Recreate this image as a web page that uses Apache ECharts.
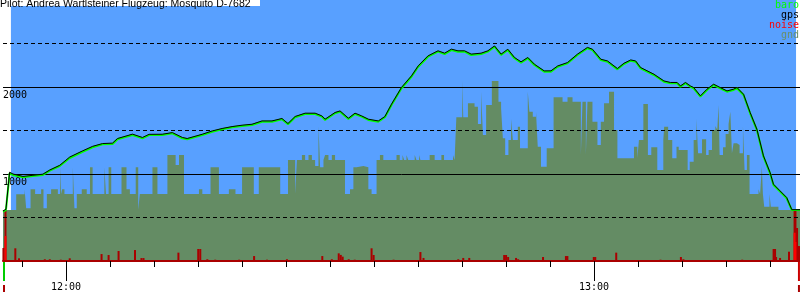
<!DOCTYPE html>
<html>
<head>
<meta charset="utf-8">
<script src="https://cdn.jsdelivr.net/npm/echarts@6/dist/echarts.min.js"></script>
<style>
html,body{margin:0;padding:0;background:#fff;}
#chart{width:800px;height:300px;}
</style>
</head>
<body>
<div id="chart"></div>
<script>
// ---------- data ----------
const titleText = 'Pilot: Andrea Wartlsteiner Flugzeug: Mosquito D-7682';
const xRange = ['11:52:50', '13:23:24'];
const flightWindow = ['11:53:44', '13:22:57'];
const markerTimes = ['11:52:50', '13:23:10'];
const markerKinds = ['start', 'end'];
const minorTicks = ['11:55','12:05','12:10','12:15','12:20','12:25','12:30','12:35','12:40','12:45','12:50','12:55','13:05','13:10','13:15','13:20'];
const majorTicks = ['12:00','13:00'];
const yLabels = [1000, 2000];
const legendNames = ['baro', 'gps', 'noise', 'gnd'];

const trackTimes = ['11:52:50','11:53:10','11:53:35','11:53:58','11:55:06','11:56:14','11:57:22','11:58:09','11:59:17','12:00:25',
 '12:01:53','12:03:01','12:04:09','12:05:17','12:05:51','12:07:33','12:08:41','12:09:26','12:10:56','12:12:05',
 '12:13:13','12:13:46','12:15:29','12:16:37','12:17:44','12:18:52','12:20:00','12:21:08','12:22:16','12:23:24',
 '12:24:32','12:25:13','12:26:02','12:27:10','12:28:18','12:29:04','12:29:26','12:30:34','12:31:08','12:32:05',
 '12:32:50','12:33:35','12:34:21','12:35:29','12:36:14','12:36:59','12:38:07','12:39:15','12:40:01','12:41:08',
 '12:42:16','12:43:01','12:43:47','12:44:32','12:45:17','12:46:02','12:47:10','12:47:56','12:48:41','12:49:26',
 '12:50:12','12:50:57','12:51:42','12:52:28','12:53:13','12:54:20','12:55:06','12:55:52','12:56:59','12:58:07',
 '12:59:15','12:59:49','13:00:46','13:01:31','13:02:39','13:03:24','13:04:10','13:04:43','13:05:17','13:06:48',
 '13:07:56','13:08:41','13:09:26','13:09:49','13:10:23','13:10:57','13:11:19','13:12:05','13:12:50','13:13:35',
 '13:14:20','13:15:06','13:15:51','13:16:14','13:16:59','13:17:44','13:18:30','13:19:15','13:20:00','13:20:23',
 '13:21:08','13:21:53','13:22:28','13:23:24'];
const baroAlt = [567,586,1011,989,962,977,989,1038,1092,1184,
 1256,1307,1341,1345,1399,1448,1410,1448,1448,1468,
 1410,1399,1448,1486,1514,1537,1552,1563,1601,1601,
 1629,1571,1652,1690,1690,1659,1621,1698,1716,1632,
 1690,1659,1621,1601,1652,1793,1985,2118,2233,2348,
 2406,2379,2425,2406,2406,2368,2379,2406,2463,2368,
 2425,2330,2279,2330,2253,2176,2176,2233,2272,2368,
 2445,2425,2310,2291,2203,2264,2302,2291,2215,2138,
 2061,2043,2043,2003,2043,2003,1985,1889,1966,2023,
 1985,1946,1966,1985,1908,1698,1506,1199,1008,874,
 797,721,586,586];
const gpsAlt = [575,595,1020,1000,972,985,998,1046,1100,1195,
 1266,1318,1350,1355,1408,1458,1420,1456,1457,1476,
 1420,1408,1457,1495,1523,1545,1561,1572,1610,1610,
 1638,1580,1661,1699,1699,1668,1630,1707,1725,1641,
 1699,1668,1630,1610,1661,1803,1995,2128,2243,2358,
 2416,2389,2435,2416,2416,2378,2389,2416,2472,2378,
 2434,2340,2289,2339,2262,2185,2186,2242,2281,2378,
 2455,2434,2319,2300,2212,2273,2311,2300,2224,2147,
 2070,2052,2052,2012,2052,2012,1994,1898,1975,2032,
 1994,1955,1975,1994,1917,1707,1515,1208,1017,883,
 806,730,590,590];

const gndTimes = ['11:52:50','11:54:20','11:55:17','11:55:28','11:55:58','11:56:29','11:57:10','11:57:26','11:57:49','11:58:18',
 '11:59:04','11:59:19','11:59:26','11:59:33','11:59:49','12:00:46','12:00:57','12:01:13','12:01:47','12:02:21',
 '12:02:43','12:03:01','12:04:21','12:04:32','12:04:50','12:05:08','12:06:18','12:06:52','12:07:15','12:07:55',
 '12:08:12','12:08:23','12:09:49','12:10:23','12:11:31','12:12:27','12:12:50','12:13:24','12:15:06','12:15:29',
 '12:16:25','12:17:22','12:18:30','12:19:15','12:20:00','12:21:20','12:21:54','12:24:20','12:25:13','12:26:02',
 '12:26:14','12:26:48','12:27:10','12:27:33','12:27:56','12:28:18','12:28:41','12:28:52','12:29:15','12:29:26',
 '12:29:49','12:30:12','12:30:34','12:31:42','12:32:16','12:32:39','12:33:01','12:33:47','12:34:21','12:34:43',
 '12:35:17','12:35:40','12:36:03','12:37:33','12:37:55','12:38:14','12:38:25','12:38:41','12:38:53','12:39:37',
 '12:39:49','12:40:07','12:40:16','12:41:19','12:41:53','12:42:39','12:42:57','12:43:58','12:44:09','12:44:21',
 '12:45:01','12:45:08','12:45:40','12:46:25','12:46:48','12:47:10','12:47:22','12:47:44','12:48:23','12:49:08',
 '12:49:26','12:49:38','12:49:54','12:50:16','12:50:34','12:50:46','12:51:20','12:51:35','12:52:28','12:52:39',
 '12:53:02','12:53:24','12:53:36','12:53:58','12:54:37','12:55:24','12:56:25','12:56:59','12:57:33','12:58:30',
 '12:58:41','12:59:04','12:59:15','12:59:49','13:00:23','13:00:46','13:01:08','13:01:42','13:02:16','13:02:39',
 '13:04:32','13:04:55','13:05:06','13:05:36','13:06:07','13:06:30','13:07:11','13:07:52','13:07:58','13:08:25',
 '13:08:53','13:09:22','13:09:37','13:10:38','13:10:52','13:11:19','13:11:38','13:11:49','13:12:16','13:12:44',
 '13:13:01','13:13:24','13:13:47','13:14:00','13:14:09','13:14:16','13:14:39','13:14:57','13:15:17','13:15:29',
 '13:15:40','13:15:51','13:16:14','13:16:32','13:16:55','13:17:06','13:17:22','13:17:40','13:18:41','13:18:52',
 '13:19:04','13:19:11','13:19:20','13:19:56','13:20:05','13:20:57','13:23:24'];
const gndAlt = [586,766,824,605,824,770,824,605,770,824,
 770,1077,770,824,770,1077,605,770,824,770,
 1077,770,1077,770,1077,770,1077,824,770,1077,
 586,770,1077,770,1218,1103,1218,770,824,770,
 1077,770,824,770,1077,770,1077,770,1161,770,
 1161,1218,1161,1218,1161,1092,1552,1077,1161,1218,
 1161,1218,1161,770,824,1077,1092,1077,824,770,
 1161,1218,1161,1218,1161,1218,1161,1218,1161,1218,
 1161,1218,1161,1218,1161,1218,1161,1218,1161,1652,
 2073,1652,1812,1774,1575,1946,1448,1793,2069,1831,
 1755,1410,1218,1391,1632,1391,1544,1295,1946,1716,
 1659,1716,1314,1084,1295,1881,1831,1881,1831,1218,
 1831,1218,1831,1601,1333,1601,1812,1946,1506,1180,
 1314,1180,1391,1805,1218,1307,1046,1391,1544,1391,
 1180,1314,1276,1046,1141,1391,1632,1238,1399,1218,
 1276,1506,1552,1506,1793,1218,1307,1460,1575,1716,
 1238,1353,1333,1238,1552,1046,1218,770,824,770,
 1084,770,624,770,624,586,586];

const noiseTimes = ['11:52:53','11:53:07','11:54:14','11:54:39','11:57:35','11:58:09','11:59:24','12:00:25','12:04:02','12:04:50',
 '12:05:58','12:07:50','12:08:34','12:08:48','12:12:46','12:15:01','12:15:15','12:16:03','12:16:57','12:19:40',
 '12:21:22','12:22:50','12:25:06','12:29:07','12:30:12','12:30:59','12:31:13','12:31:26','12:32:07','12:32:48',
 '12:34:43','12:34:57','12:37:13','12:40:16','12:40:37','12:44:34','12:45:08','12:45:49','12:49:26','12:49:47',
 '12:50:00','12:50:14','12:51:08','12:51:22','12:54:12','12:56:48','12:56:58','12:59:58','13:00:08','13:02:31',
 '13:07:33','13:07:54','13:09:52','13:10:09','13:11:51','13:16:50','13:20:24','13:20:34','13:20:41','13:21:08',
 '13:22:09','13:22:47','13:22:53','13:23:04','13:23:17'];
const noiseVal = [150,874,146,31,20,20,15,31,80,69,
 115,126,34,34,96,138,138,20,15,15,
 57,15,20,57,20,88,70,50,20,15,
 146,69,15,103,35,20,35,35,10,69,
 69,46,35,20,46,57,57,46,46,96,
 15,10,46,20,10,15,138,138,46,35,
 107,911,805,379,172];

// ---------- helpers ----------
function toMin(s) {
  const p = s.split(':').map(Number);
  return p[0] * 60 + p[1] + (p[2] || 0) / 60;
}
function fmt(v) {
  const h = Math.floor(v / 60 + 1e-9), m = Math.round(v - h * 60);
  return h + ':' + String(m).padStart(2, '0');
}
const gndPairs = gndTimes.map((t, i) => [toMin(t), gndAlt[i]]);
function gndAt(t) {
  let v = gndPairs[0][1];
  for (const p of gndPairs) { if (p[0] <= t) v = p[1]; else break; }
  return v;
}
const noiseLow = noiseTimes.map((t, i) => { const x = toMin(t); return [x, Math.min(noiseVal[i], gndAt(x))]; });
const noiseHigh = noiseTimes.map((t, i) => { const x = toMin(t); return [x, Math.max(0, noiseVal[i] - gndAt(x))]; });

const mono = 'DejaVu Sans Mono';
const legendColors = ['#00ff00', '#000000', '#ff0000', '#6a8f6a'];

const chart = echarts.init(document.getElementById('chart'), null, { renderer: 'canvas' });
const xMin = toMin(xRange[0]), xMax = toMin(xRange[1]);

const option = {
  animation: false,
  backgroundColor: '#ffffff',
  title: {
    text: titleText, left: 0, top: -1, padding: 0, z: 10,
    textStyle: { fontFamily: 'Liberation Sans', fontSize: 10.5, fontWeight: 'normal', color: '#000' }
  },
  graphic: [
    { type: 'rect', left: 0, top: 0, z: 9, silent: true, shape: { width: 260, height: 6 }, style: { fill: '#ffffff' } }
  ],
  legend: legendNames.map((n, i) => ({
    data: [{ name: n, textStyle: { color: legendColors[i] } }],
    right: 1, top: i * 10, orient: 'vertical', icon: 'none', itemWidth: 0, itemHeight: 10,
    itemGap: 0, padding: 0, selectedMode: false, z: 10,
    textStyle: { fontFamily: mono, fontSize: 10, padding: 0 }
  })),
  grid: { left: 0, right: 0, top: -1, bottom: 39, containLabel: false },
  xAxis: [
    {
      type: 'value', min: xMin, max: xMax, z: 3,
      axisLine: { show: true, onZero: false, lineStyle: { color: '#aa0000', width: 2 } },
      axisTick: { show: true, customValues: minorTicks.map(toMin), length: 6, lineStyle: { color: '#000', width: 1 } },
      axisLabel: { show: false },
      splitLine: { show: false }
    },
    {
      type: 'value', min: xMin, max: xMax, position: 'bottom', z: 3,
      axisLine: { show: false },
      axisTick: { show: true, customValues: majorTicks.map(toMin), length: 20, lineStyle: { color: '#000', width: 1 } },
      axisLabel: { show: true, customValues: majorTicks.map(toMin), formatter: fmt, margin: 21,
        fontFamily: mono, fontSize: 10, color: '#000' },
      splitLine: { show: false }
    }
  ],
  yAxis: [
    {
      type: 'value', min: 0, max: 3000, interval: 1000, z: 3,
      axisLine: { show: false }, axisTick: { show: false },
      axisLabel: { inside: true, margin: 0, verticalAlign: 'top', padding: [3, 0, 0, 0],
        fontFamily: mono, fontSize: 10, color: '#000',
        formatter: v => yLabels.includes(v) ? String(v) : '' },
      splitLine: { show: true, showMaxLine: false, lineStyle: { color: '#000', width: 1, type: 'solid' } }
    },
    {
      type: 'value', min: 0, max: 3000, interval: 500, z: 3,
      axisLine: { show: false }, axisTick: { show: false }, axisLabel: { show: false },
      splitLine: { show: true, showMaxLine: false, lineStyle: { color: '#000', width: 1, type: [4, 3] } }
    }
  ],
  series: [
    {
      type: 'custom', name: 'bg', z: 1, silent: true,
      data: [[toMin(flightWindow[0]), toMin(flightWindow[1])]],
      encode: { x: [0, 1] },
      renderItem: (params, api) => {
        const p0 = api.coord([api.value(0), 3000]);
        const p1 = api.coord([api.value(1), 0]);
        return { type: 'rect', shape: { x: p0[0], y: p0[1], width: p1[0] - p0[0], height: p1[1] - p0[1] },
          style: { fill: '#58a0ff' } };
      }
    },
    {
      type: 'line', name: 'gnd', z: 2, step: 'end', symbol: 'none', silent: true,
      data: gndPairs, lineStyle: { width: 0 }, itemStyle: { color: '#648c64' },
      areaStyle: { color: '#648c64', opacity: 1 }
    },
    {
      type: 'bar', name: 'noise', z: 2, stack: 'noise', barWidth: 2, silent: true,
      data: noiseLow, itemStyle: { color: '#aa0000' }
    },
    {
      type: 'bar', name: 'noise', z: 2, stack: 'noise', barWidth: 2, silent: true,
      data: noiseHigh, itemStyle: { color: '#ff0000' }
    },
    {
      type: 'line', name: 'baro', z: 4, symbol: 'none', silent: true,
      data: trackTimes.map((t, i) => [toMin(t), baroAlt[i]]),
      lineStyle: { color: '#00ff00', width: 2 }, itemStyle: { color: '#00ff00' }
    },
    {
      type: 'line', name: 'gps', z: 5, symbol: 'none', silent: true,
      data: trackTimes.map((t, i) => [toMin(t), gpsAlt[i]]),
      lineStyle: { color: '#000000', width: 1 }, itemStyle: { color: '#000' }
    },
    {
      type: 'custom', name: 'markers', z: 6, clip: false, silent: true,
      data: markerTimes.map((t, i) => [toMin(t), i]),
      encode: { x: 0 },
      renderItem: (params, api) => {
        const kind = markerKinds[api.value(1)];
        const p = api.coord([api.value(0), 0]);
        const top = kind === 'start' ? '#00cc00' : '#cc0000';
        return { type: 'group', children: [
          { type: 'rect', shape: { x: p[0], y: p[1] + 1, width: 2, height: 19 }, style: { fill: top } },
          { type: 'rect', shape: { x: p[0], y: p[1] + 24, width: 2, height: 7 }, style: { fill: '#aa0000' } }
        ] };
      }
    }
  ]
};
chart.setOption(option);
</script>
</body>
</html>
